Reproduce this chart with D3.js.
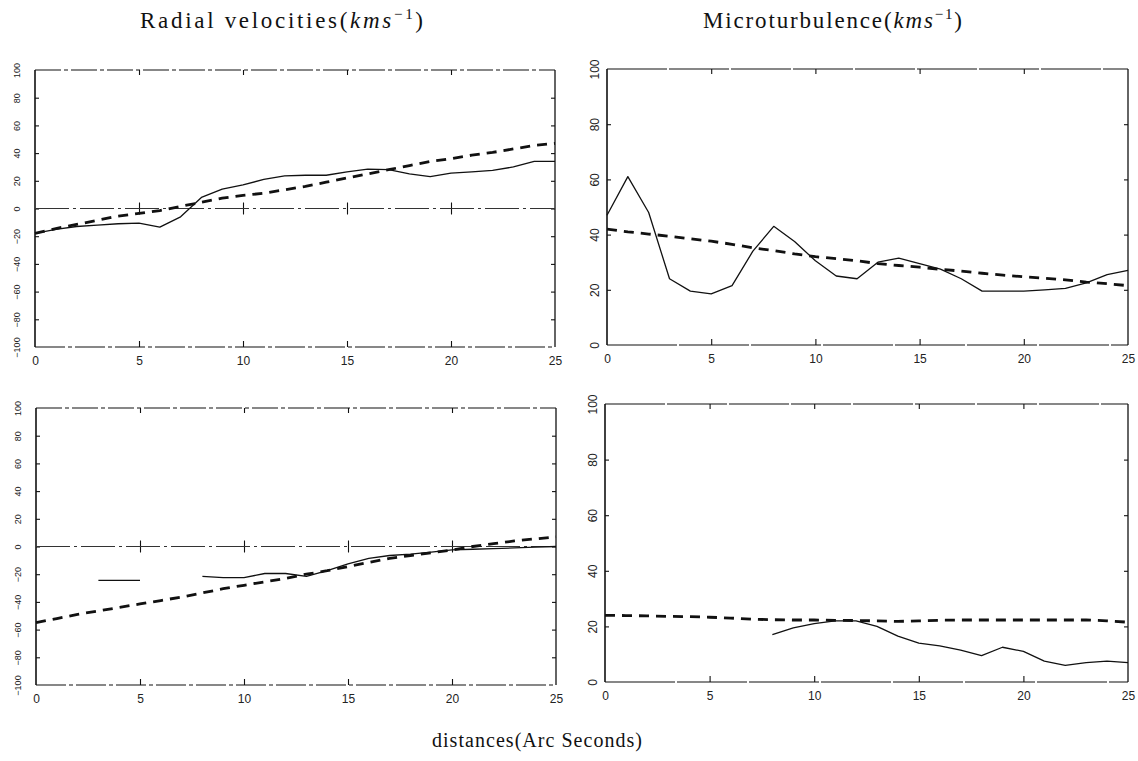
<!DOCTYPE html>
<html>
<head>
<meta charset="utf-8">
<script src="https://cdn.jsdelivr.net/npm/d3@7"></script>
<style>
  body { margin: 0; background: #fff; }
  .Title { font-family: "Liberation Serif", serif; font-size: 23px; fill: #111; }
  .TickText text { font-family: "Liberation Sans", sans-serif; fill: #222; }
  .TickText .domain { display: none; }
  .TickText line { stroke: #111; stroke-width: 1.1; }
</style>
</head>
<body>
<div id="chart"></div>
<script>
// ------ Data ---------------//
var distance = [0, 1, 2, 3, 4, 5, 6, 7, 8, 9, 10, 11, 12, 13, 14, 15, 16, 17, 18, 19, 20, 21, 22, 23, 24, 25];

// radial velocities, upper slit
var rvTopObs = [-18, -15, -13, -12, -11, -10.5, -13.5, -6, 8, 14, 17, 21, 23.5, 24, 24, 26.5, 28.5, 28, 25, 23, 25.5, 26.5, 27.5, 30, 34, 34];
var rvTopFit = [-18, -14.5, -11.5, -8.5, -5.5, -3.5, -1.5, 1.5, 4.5, 7.5, 9.5, 11, 13.5, 16, 19, 22, 25, 28, 31, 34, 36, 38.5, 40.5, 43, 45.5, 47];

// microturbulence, upper slit
var mtTopObs = [47, 61, 48, 24, 19.5, 18.5, 21.5, 34, 43, 37.5, 30.5, 25, 24, 30, 31.5, 29.5, 27.5, 24, 19.5, 19.5, 19.5, 20, 20.5, 22.5, 25.5, 27];
var mtTopFit = [42, 41, 40.2, 39.4, 38.5, 37.6, 36.5, 35.2, 34.2, 33, 32, 31.3, 30.5, 29.5, 28.8, 28.2, 27.4, 26.8, 26, 25.3, 24.7, 24.2, 23.6, 22.8, 22.2, 21.5];

// radial velocities, lower slit (null = no measurement)
var rvBotObs = [null, null, null, -24.5, -24.5, -24.5, null, null, -21.5, -22.5, -22.5, -19.5, -19.5, -21.5, -17.5, -12.5, -8.5, -6.5, -5.5, -4, -2.5, -2, -1.5, -1, -0.5, 0];
var rvBotFit = [-55, -52, -49, -46.5, -44, -41.5, -39, -36.5, -33.5, -30.5, -28, -25.5, -23, -20, -17.5, -14.5, -11.5, -8.5, -6.5, -4.5, -2.5, 0, 2, 4, 5.5, 7];

// microturbulence, lower slit
var mtBotObs = [null, null, null, null, null, null, null, null, 17, 19.5, 21, 22, 22, 20, 16.5, 14, 13, 11.5, 9.5, 12.5, 11, 7.5, 6, 7, 7.5, 7];
var mtBotFit = [24, 23.9, 23.8, 23.6, 23.5, 23.3, 23, 22.6, 22.4, 22.3, 22.3, 22.2, 22.1, 22, 21.8, 22, 22.2, 22.3, 22.3, 22.3, 22.3, 22.3, 22.3, 22.3, 22, 21.5];

// tick labels
var xTicks = [0, 5, 10, 15, 20, 25];
var rvTicks = [-100, -80, -60, -40, -20, 0, 20, 40, 60, 80, 100];
var mtTicks = [0, 20, 40, 60, 80, 100];

// ------ SVG ---------------//
var width = 1138, height = 761;
var svg = d3.select("#chart").append("svg")
  .attr("width", width)
  .attr("height", height);

svg.append("rect").attr("width", width).attr("height", height).attr("fill", "#fff");

// ------ Panels ---------------//
var panels = [
  {left: 35, right: 555, top: 70, bottom: 347, ticks: rvTicks, obs: rvTopObs, fit: rvTopFit, zero: true, labelPad: 15, labelSize: 9},
  {left: 607, right: 1128, top: 69, bottom: 345, ticks: mtTicks, obs: mtTopObs, fit: mtTopFit, zero: false, labelPad: 8, labelSize: 12},
  {left: 36, right: 556, top: 408, bottom: 685, ticks: rvTicks, obs: rvBotObs, fit: rvBotFit, zero: true, labelPad: 15, labelSize: 9},
  {left: 605, right: 1128, top: 404, bottom: 682, ticks: mtTicks, obs: mtBotObs, fit: mtBotFit, zero: false, labelPad: 8, labelSize: 12}
];

panels.forEach(function(p) {
  var g = svg.append("g");

  var x = d3.scaleLinear().domain([0, 25]).range([p.left, p.right]);
  var y = d3.scaleLinear().domain(d3.extent(p.ticks)).range([p.bottom, p.top]);

  // bottom axis with labels
  g.append("g").attr("class", "TickText")
    .attr("transform", `translate(0,${p.bottom})`)
    .call(d3.axisBottom(x).tickValues(xTicks).tickSize(-6).tickPadding(9))
    .call(a => a.selectAll("text").attr("font-size", 12))
    .call(a => a.selectAll("line").filter(d => d === 0 || d === 25).remove());

  // top axis, marks only
  g.append("g").attr("class", "TickText")
    .attr("transform", `translate(0,${p.top})`)
    .call(d3.axisTop(x).tickValues([5, 10, 15, 20]).tickSize(-5).tickFormat(""));

  // left axis, rotated labels
  g.append("g").attr("class", "TickText")
    .attr("transform", `translate(${p.left},0)`)
    .call(d3.axisLeft(y).tickValues(p.ticks).tickSize(-4))
    .call(a => a.selectAll("text")
      .attr("transform", "rotate(-90)")
      .attr("text-anchor", "middle")
      .attr("x", 0).attr("y", -p.labelPad).attr("dy", 0)
      .attr("font-size", p.labelSize))
    .call(a => a.selectAll("line").filter(d => d === p.ticks[0] || d === p.ticks[p.ticks.length - 1]).remove());

  // right axis, marks only
  g.append("g").attr("class", "TickText")
    .attr("transform", `translate(${p.right},0)`)
    .call(d3.axisRight(y).tickValues(p.ticks).tickSize(-4).tickFormat(""))
    .call(a => a.selectAll("line").filter(d => d === p.ticks[0] || d === p.ticks[p.ticks.length - 1]).remove());

  // frame
  var frame = g.append("g").attr("fill", "none").attr("stroke", "#111");
  frame.append("line").attr("x1", p.left).attr("x2", p.left).attr("y1", p.top).attr("y2", p.bottom).attr("stroke-width", 1.6);
  frame.append("line").attr("x1", p.right).attr("x2", p.right).attr("y1", p.top).attr("y2", p.bottom).attr("stroke-width", 1.3);
  frame.append("line").attr("x1", p.left).attr("x2", p.right).attr("y1", p.top).attr("y2", p.top)
    .attr("stroke-width", 1.2).attr("stroke-dasharray", p.zero ? "26,3,4,3" : "60,2");
  frame.append("line").attr("x1", p.left).attr("x2", p.right).attr("y1", p.bottom).attr("y2", p.bottom)
    .attr("stroke-width", 1.2).attr("stroke-dasharray", p.zero ? "30,3,4,3" : "70,2");

  // zero line with crossing ticks
  if (p.zero) {
    g.append("g").attr("class", "TickText")
      .attr("transform", `translate(0,${y(0)})`)
      .call(d3.axisBottom(x).tickValues([5, 10, 15, 20]).tickSize(6).tickFormat(""))
      .call(a => a.selectAll("line").attr("y1", -6));
    g.append("line")
      .attr("x1", x(0)).attr("x2", x(25)).attr("y1", y(0)).attr("y2", y(0))
      .attr("stroke", "#333").attr("stroke-width", 1)
      .attr("stroke-dasharray", "34,4,3,4");
  }

  // lines
  var line = d3.line()
    .defined((d, i) => d !== null)
    .x((d, i) => x(distance[i]))
    .y(d => y(d));

  g.append("path")
    .datum(p.obs)
    .attr("d", line)
    .attr("fill", "none")
    .attr("stroke", "#111")
    .attr("stroke-width", 1.3)
    .attr("stroke-linejoin", "round");

  g.append("path")
    .datum(p.fit)
    .attr("d", line)
    .attr("fill", "none")
    .attr("stroke", "#111")
    .attr("stroke-width", 2.8)
    .attr("stroke-dasharray", "10,7");
});

// ------ Annotations ---------------//
// the scanned titles are widely spaced, so each is stretched to its measured width
function unitTitle(text, x, len) {
  var t = svg.append("text").attr("class", "Title").attr("x", x).attr("y", 28)
    .attr("textLength", len).attr("lengthAdjust", "spacing");
  t.append("tspan").text(text + "(");
  t.append("tspan").attr("font-style", "italic").text("kms");
  t.append("tspan").style("font-size", "15px").attr("dy", -9).text("\u22121");
  t.append("tspan").attr("dy", 9).text(")");
  return t;
}
unitTitle("Radial velocities", 140, 283);
unitTitle("Microturbulence", 703, 259);

svg.append("text").attr("class", "Title")
  .attr("x", 432).attr("y", 747)
  .style("font-size", "20px")
  .attr("textLength", 210).attr("lengthAdjust", "spacing")
  .text("distances(Arc Seconds)");
</script>
</body>
</html>
